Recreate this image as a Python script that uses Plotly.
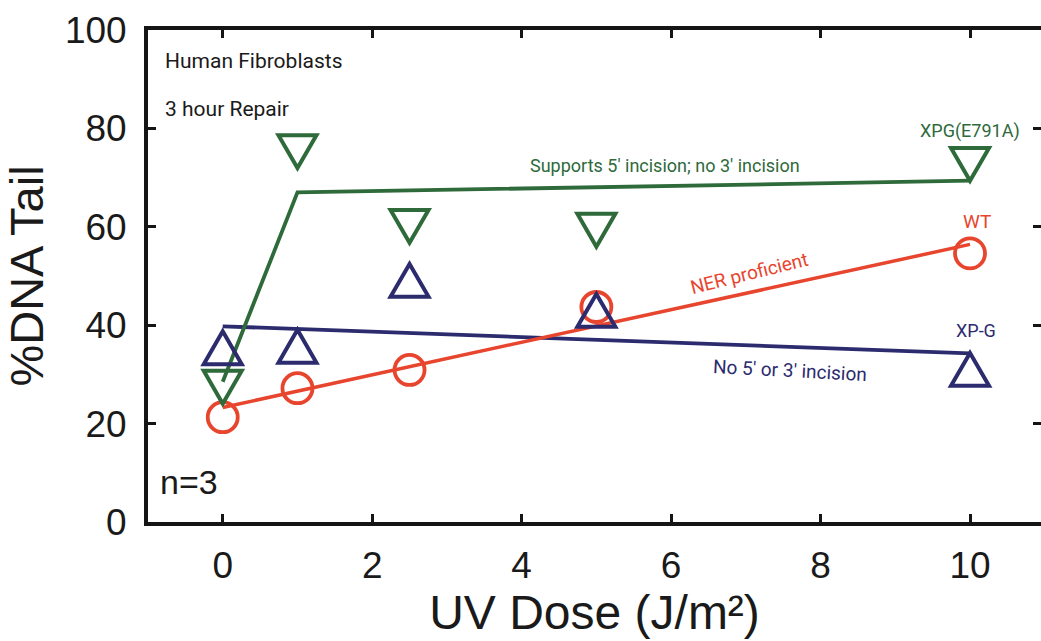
import numpy as np
import plotly.graph_objects as go

# UV dose (J/m^2) and % DNA in comet tail, 3 h repair, human fibroblasts
dose = [0, 1, 2.5, 5, 10]
wt = [21.3, 27.2, 30.9, 43.7, 54.6]
xpg = [34.3, 34.6, 48.0, 41.9, 29.9]
xpg_e791a = [28.5, 76.4, 61.2, 60.4, 73.8]

x_ticks = [0, 2, 4, 6, 8, 10]
y_ticks = [0, 20, 40, 60, 80, 100]

RED = "#E8452F"
GREEN = "#2E6A3A"
NAVY = "#2B2B6E"
AXIS = "#151515"
INK = "#1a1a1a"
LABEL_FONT = "Roboto, Liberation Sans, Arial, sans-serif"
SANS = "Liberation Sans, Arial, Helvetica, sans-serif"

d = np.array(dose, dtype=float)

# least-squares trend lines
wt_fit = np.polyfit(d, wt, 1)
xpg_fit = np.polyfit(d, xpg, 1)
e_fit = np.polyfit(d[1:], xpg_e791a[1:], 1)

line_x = [d[0], d[-1]]
fig = go.Figure()
fig.add_trace(go.Scatter(x=line_x, y=np.polyval(xpg_fit, line_x), mode="lines",
                         line=dict(color=NAVY, width=3.8), hoverinfo="skip"))
fig.add_trace(go.Scatter(x=line_x, y=np.polyval(wt_fit, line_x), mode="lines",
                         line=dict(color=RED, width=3.5), hoverinfo="skip"))
# E791A: from the unirradiated point to the trend of the irradiated doses
e_x = [d[0], d[1], d[-1]]
e_y = [xpg_e791a[0], np.polyval(e_fit, d[1]), np.polyval(e_fit, d[-1])]
fig.add_trace(go.Scatter(x=e_x, y=e_y, mode="lines",
                         line=dict(color=GREEN, width=3.8), hoverinfo="skip"))

fig.add_trace(go.Scatter(x=dose, y=wt, mode="markers", name="WT",
                         marker=dict(symbol="circle-open", size=30, color=RED,
                                     line=dict(width=3.8, color=RED))))
# invisible trace carrying the right-hand ticks
fig.add_trace(go.Scatter(x=[dose[0]], y=[wt[0]], yaxis="y2", mode="markers",
                         marker=dict(opacity=0), hoverinfo="skip"))


def triangle(down, side=38):
    h = side * np.sqrt(3) / 2
    s = 1 if down else -1
    pts = [(-side / 2, s * h / 3), (side / 2, s * h / 3), (0, -s * 2 * h / 3)]
    return "M {:.2f},{:.2f} L {:.2f},{:.2f} L {:.2f},{:.2f} Z".format(*[v for p in pts for v in p])


shapes = []
for xv, yv in zip(dose, xpg):
    shapes.append(dict(type="path", xref="x", yref="y", xsizemode="pixel", ysizemode="pixel",
                       xanchor=xv, yanchor=yv, path=triangle(False),
                       line=dict(color=NAVY, width=4), fillcolor="rgba(0,0,0,0)"))
for xv, yv in zip(dose, xpg_e791a):
    shapes.append(dict(type="path", xref="x", yref="y", xsizemode="pixel", ysizemode="pixel",
                       xanchor=xv, yanchor=yv, path=triangle(True),
                       line=dict(color=GREEN, width=4), fillcolor="rgba(0,0,0,0)"))

ann = [
    dict(text="Human Fibroblasts", x=-0.80, y=93.6, xanchor="left", color=INK, size=21, angle=0),
    dict(text="3 hour Repair", x=-0.80, y=84.0, xanchor="left", color=INK, size=21, angle=0),
    dict(text="XPG(E791A)", x=10.0, y=79.5, xanchor="center", color=GREEN, size=18, angle=0),
    dict(text="Supports 5\u2032 incision; no 3\u2032 incision", x=5.92, y=72.4, xanchor="center",
         color=GREEN, size=18, angle=0),
    dict(text="WT", x=10.09, y=61.0, xanchor="center", color=RED, size=19, angle=0),
    dict(text="NER proficient", x=7.04, y=50.6, xanchor="center", color=RED, size=19, angle=-14),
    dict(text="XP-G", x=10.08, y=39.0, xanchor="center", color=NAVY, size=18, angle=0),
    dict(text="No 5\u2032 or 3\u2032 incision", x=7.59, y=30.7, xanchor="center", color=NAVY,
         size=19, angle=3),
]
annotations = [dict(text=a["text"], x=a["x"], y=a["y"], xref="x", yref="y", xanchor=a["xanchor"],
                    yanchor="middle", showarrow=False, textangle=a["angle"],
                    font=dict(family=LABEL_FONT, size=a["size"], color=a["color"])) for a in ann]
annotations.append(dict(text="n=3", x=-0.87, y=8.1, xref="x", yref="y", xanchor="left",
                        yanchor="middle", showarrow=False,
                        font=dict(family=SANS, size=34, color=INK)))

tick_style = dict(ticks="inside", ticklen=8, tickwidth=3, tickcolor=AXIS,
                  showgrid=False, zeroline=False)

fig.update_layout(
    width=1041, height=641,
    margin=dict(l=148, r=0, t=30, b=119),
    paper_bgcolor="white", plot_bgcolor="white",
    showlegend=False,
    shapes=shapes,
    annotations=annotations,
    xaxis=dict(range=[-1, 10.95], tickvals=x_ticks, ticktext=[str(v) for v in x_ticks],
               showline=True, linewidth=3.8, linecolor=AXIS, mirror="ticks",
               ticklabelstandoff=8,
               tickfont=dict(family=SANS, size=37, color=INK),
               title=dict(text="UV Dose (J/m\u00b2)", standoff=0,
                          font=dict(family=SANS, size=48, color=INK)),
               **tick_style),
    yaxis=dict(range=[0, 100], tickvals=y_ticks, ticktext=[str(v) for v in y_ticks],
               showline=True, linewidth=3.8, linecolor=AXIS,
               ticklabelstandoff=10,
               tickfont=dict(family=SANS, size=37, color=INK),
               title=dict(text="%DNA Tail", standoff=11,
                          font=dict(family=SANS, size=47, color=INK)),
               **tick_style),
    yaxis2=dict(range=[0, 100], tickvals=y_ticks, overlaying="y", side="right",
                showline=False, showticklabels=False, **tick_style),
)

fig.write_html("out.html")
